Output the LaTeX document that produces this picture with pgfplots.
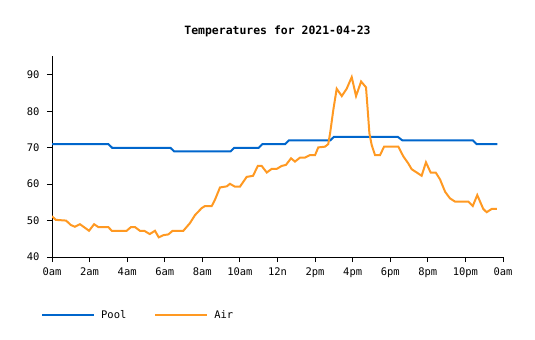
\documentclass[border=0pt]{standalone}
\usepackage{pgfplots}
\pgfplotsset{compat=1.18}
\usepackage{fontspec}
\setmainfont{DejaVu Sans Mono}
\definecolor{poolc}{RGB}{0,102,204}
\definecolor{airc}{RGB}{255,153,34}
\begin{document}
\begin{tikzpicture}
\useasboundingbox (-52bp,-83bp) rectangle (483bp,257bp);
\begin{axis}[
  at={(0,0)}, anchor=south west,
  scale only axis, width=451bp, height=201bp,
  xmin=0, xmax=24, ymin=40, ymax=95.2,
  axis lines*=left,
  axis line style={line width=1bp},
  tick style={black, line width=1bp},
  tick align=outside, major tick length=5bp,
  xtick={0,2,...,24},
  xticklabels={0am,2am,4am,6am,8am,10am,12n,2pm,4pm,6pm,8pm,10pm,0am},
  ytick={40,50,...,90},
  /pgf/number format/assume math mode=true,
  tick label style={font=\fontsize{10.5}{12}\selectfont},
  xticklabel style={yshift=-2bp},
  yticklabel style={xshift=-4bp},
  title={\bfseries Temperatures for 2021-04-23},
  title style={font=\fontsize{11.5}{13}\selectfont, yshift=10bp},
  legend columns=2,
  legend style={draw=none, fill=none, at={(-11bp,-58bp)}, anchor=west,
    font=\fontsize{10.5}{12}\selectfont, inner sep=0pt,
    /tikz/every odd column/.append style={column sep=4bp},
    /tikz/every even column/.append style={column sep=26bp}},
  legend cell align=left,
  legend image code/.code={\draw[#1] (0bp,0bp) -- (52bp,0bp);},
]
\addplot[poolc, line width=2bp] coordinates {
(0,71) (3.0,71) (3.2,70) (6.3,70) (6.5,69) (9.5,69) (9.7,70) (11.0,70) (11.2,71) (12.4,71) (12.6,72) (14.8,72) (15.0,73) (18.4,73) (18.65,72) (22.4,72) (22.6,71) (23.7,71)
};
\addlegendentry{Pool}
\addplot[airc, line width=2bp] coordinates {
(0,51.2) (0.2,50.2) (0.75,50) (1.0,48.8) (1.22,48.3) (1.49,49) (1.76,48) (1.97,47.2) (2.24,49) (2.47,48.2) (3.0,48.2) (3.18,47.2) (3.97,47.2) (4.2,48.2) (4.42,48.2) (4.68,47.2) (4.91,47.2) (5.2,46.3) (5.48,47.2) (5.68,45.4) (5.93,46) (6.19,46.2) (6.42,47.2) (6.99,47.2) (7.34,49.3) (7.61,51.5) (7.96,53.4) (8.14,54) (8.5,54) (8.67,55.7) (8.94,59.1) (9.3,59.4) (9.47,60.1) (9.74,59.3) (10.0,59.3) (10.36,62) (10.7,62.3) (10.95,65) (11.16,65) (11.43,63.2) (11.69,64.2) (11.96,64.2) (12.22,65) (12.45,65.3) (12.72,67.1) (12.93,66.2) (13.2,67.3) (13.46,67.3) (13.73,68) (14.0,68) (14.17,70.1) (14.53,70.3) (14.7,71) (14.8,74) (14.97,80.4) (15.15,86.2) (15.42,84.2) (15.68,86.2) (15.95,89.4) (16.18,84.2) (16.45,88.2) (16.71,86.6) (16.8,80.4) (16.89,74) (17.01,70.8) (17.19,68) (17.46,68) (17.67,70.3) (18.43,70.3) (18.7,67.6) (18.96,65.7) (19.14,64.1) (19.41,63.2) (19.67,62.3) (19.9,66) (20.15,63.2) (20.42,63.2) (20.65,61.3) (20.92,57.9) (21.18,56.1) (21.45,55.2) (22.16,55.2) (22.39,54) (22.63,57) (22.95,53.2) (23.13,52.3) (23.4,53.2) (23.67,53.2)
};
\addlegendentry{Air}
\end{axis}
\end{tikzpicture}
\end{document}
